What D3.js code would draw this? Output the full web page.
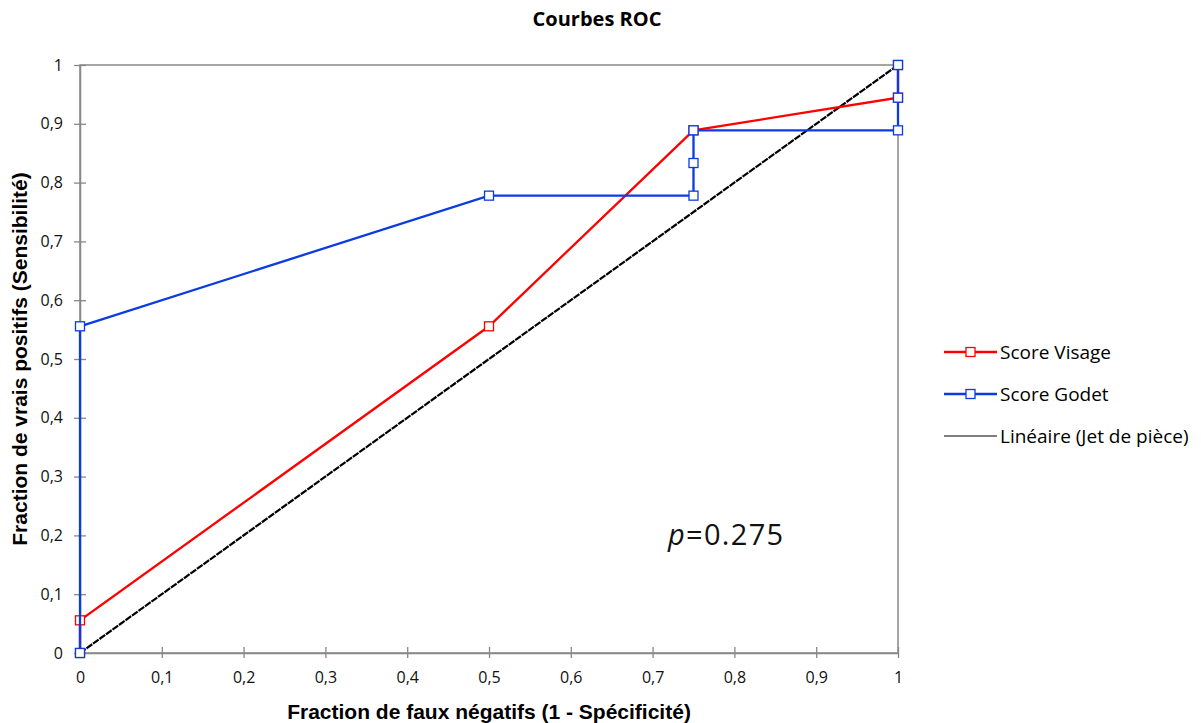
<!DOCTYPE html>
<html>
<head>
<meta charset="utf-8">
<script src="https://cdn.jsdelivr.net/npm/d3@7"></script>
<style>
  body { margin: 0; background: #fff; }
  text { font-family: "Open Sans", sans-serif; }
</style>
</head>
<body>
<svg width="1201" height="723"></svg>
<script>
const width = 1201;
const height = 723;
const margin = {top: 65, right: 303, bottom: 70, left: 80};

// ROC points, x = 1 - specificity, y = sensitivity
const visageX = [0, 0, 0.5, 0.75, 1, 1];
const visageY = [0, 0.0556, 0.5556, 0.8889, 0.9444, 1];
const godetX = [0, 0, 0.5, 0.75, 0.75, 0.75, 1, 1, 1];
const godetY = [0, 0.5556, 0.7778, 0.7778, 0.8333, 0.8889, 0.8889, 0.9444, 1];
const coinX = [0, 1];
const coinY = [0, 1];
const ticks = [0, 0.1, 0.2, 0.3, 0.4, 0.5, 0.6, 0.7, 0.8, 0.9, 1];
const seriesNames = ["Score Visage", "Score Godet", "Linéaire (Jet de pièce)"];
const seriesColors = ["#ff0000", "#0a3ce0", "#000000"];

const svg = d3.select('svg');
const x = d3.scaleLinear().domain([0, 1]).range([margin.left, width - margin.right]);
const y = d3.scaleLinear().domain([0, 1]).range([height - margin.bottom, margin.top]);
const fmt = d => d3.format('.1f')(d).replace('.', ',').replace(/^(\d),0$/, '$1');

// frame
svg.append('rect')
  .attr('x', x(0)).attr('y', y(1))
  .attr('width', x(1) - x(0)).attr('height', y(0) - y(1))
  .attr('fill', 'none').attr('stroke', '#888').attr('stroke-width', 1.5);

// axes
const xAxis = svg.append('g')
  .attr('transform', `translate(0,${y(0)})`)
  .call(d3.axisBottom(x).tickValues(ticks).tickFormat(fmt).tickSizeInner(5).tickSizeOuter(0).tickPadding(14));
const yAxis = svg.append('g')
  .attr('transform', `translate(${x(0)},0)`)
  .call(d3.axisLeft(y).tickValues(ticks).tickFormat(fmt).tickSizeInner(6).tickSizeOuter(0).tickPadding(11));

[xAxis, yAxis].forEach(a => {
  a.attr('font-size', 16).attr('font-family', '"Open Sans", sans-serif');
  a.select('.domain').attr('stroke', '#888').attr('stroke-width', 1.5);
  a.selectAll('.tick line').attr('stroke', '#888').attr('stroke-width', 1.3);
  a.selectAll('.tick text').attr('fill', '#111')
    .style('font-size', '16px')
    .style('font-family', '"Open Sans", sans-serif');
});
// ticks cross the axis line
xAxis.selectAll('.tick line').attr('y1', -6);
yAxis.selectAll('.tick line').attr('x1', 6).attr('x2', -6);

const line = d3.line().x(d => x(d[0])).y(d => y(d[1]));

// coin toss line
svg.append('path')
  .datum(d3.zip(coinX, coinY))
  .attr('d', line)
  .attr('fill', 'none').attr('stroke', '#000').attr('stroke-width', 2.2)
  .attr('stroke-dasharray', '7,1');

function drawSeries(xs, ys, color) {
  const pts = d3.zip(xs, ys);
  svg.append('path')
    .datum(pts)
    .attr('d', line)
    .attr('fill', 'none').attr('stroke', color).attr('stroke-width', 2.3);
  svg.append('g').selectAll('rect')
    .data(pts)
    .join('rect')
    .attr('x', d => x(d[0]) - 4.5).attr('y', d => y(d[1]) - 4.5)
    .attr('width', 9).attr('height', 9)
    .attr('fill', '#fff').attr('stroke', color).attr('stroke-width', 1.3);
}
drawSeries(visageX, visageY, seriesColors[0]);
drawSeries(godetX, godetY, seriesColors[1]);

// title and axis titles
svg.append('text')
  .attr('x', 597).attr('y', 26)
  .attr('text-anchor', 'middle').attr('font-size', 20).attr('font-weight', 'bold')
  .text('Courbes ROC');

svg.append('text')
  .attr('x', (x(0) + x(1)) / 2).attr('y', 719)
  .attr('text-anchor', 'middle').attr('font-size', 21).attr('font-weight', 'bold')
  .style('font-family', '"Liberation Sans", Arial, sans-serif')
  .text('Fraction de faux négatifs (1 - Spécificité)');

svg.append('text')
  .attr('transform', `translate(27,${(y(0) + y(1)) / 2}) rotate(-90)`)
  .attr('text-anchor', 'middle').attr('font-size', 21).attr('font-weight', 'bold')
  .style('font-family', '"Liberation Sans", Arial, sans-serif')
  .text('Fraction de vrais positifs (Sensibilité)');

// legend
const legend = svg.append('g').selectAll('g')
  .data(seriesNames)
  .join('g')
  .attr('transform', (d, i) => `translate(944,${352 + i * 42})`);
legend.append('line')
  .attr('x1', 0).attr('x2', 53)
  .attr('stroke', (d, i) => seriesColors[i])
  .attr('stroke-width', (d, i) => i < 2 ? 2.3 : 1.2);
legend.filter((d, i) => i < 2).append('rect')
  .attr('x', 22).attr('y', -4.5).attr('width', 9).attr('height', 9)
  .attr('fill', '#fff').attr('stroke', (d, i) => seriesColors[i]).attr('stroke-width', 1.3);
legend.append('text')
  .attr('x', 56).attr('y', 6.5)
  .attr('font-size', 19)
  .text(d => d);

// p-value annotation
const pText = svg.append('text')
  .attr('x', 668).attr('y', 545)
  .attr('font-size', 29)
  .attr('letter-spacing', 1.3)
  .attr('fill', '#111');
pText.append('tspan').attr('font-style', 'italic').text('p');
pText.append('tspan').text('=0.275');
</script>
</body>
</html>
